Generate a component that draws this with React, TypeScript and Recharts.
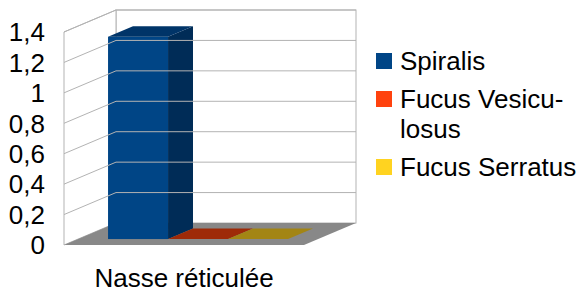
import React from 'react';
import {
  BarChart,
  Bar,
  XAxis,
  YAxis,
  Legend,
  ReferenceArea,
  ReferenceLine,
} from 'recharts';

document.body.style.margin = '0';

const categories = ['Nasse réticulée'];
const spiralis = [1.33];
const vesiculosus = [0];
const serratus = [0];
const seriesNames = ['Spiralis', 'Fucus Vesicu\u00ADlosus', 'Fucus Serratus'];
const yTicks = [0, 0.2, 0.4, 0.6, 0.8, 1, 1.2, 1.4];

// front, side, top shades per series
const frontColors = ['#004586', '#ff420e', '#ffd320'];
const sideColors = ['#002c57', '#a8290a', '#a88a14'];
const topColors = ['#003468', '#9e2a08', '#a38514'];

const data = categories.map((c, i) => ({
  category: c,
  spiralis: spiralis[i],
  vesiculosus: vesiculosus[i],
  serratus: serratus[i],
}));

// oblique 3D projection of the depth axis
const DEPTH_X = 52;
const DEPTH_Y = 22;
const BAR_FRONT = 0.27;
const BAR_DEPTH = 0.48;
const GRID = '#b3b3b3';
const FONT = '"Liberation Sans", Arial, sans-serif';

function make3DBar(idx: number) {
  return (props: any) => {
    const { x, y, width, height } = props;
    const h = Math.max(0, height || 0);
    const ox = DEPTH_X * BAR_FRONT;
    const oy = DEPTH_Y * BAR_FRONT;
    const dx = DEPTH_X * BAR_DEPTH;
    const dy = DEPTH_Y * BAR_DEPTH;
    const l = x + ox;
    const r = l + width;
    const t = y - oy;
    const b = t + h;
    return (
      <g>
        {h > 0 && <rect x={l} y={t} width={width} height={h} fill={frontColors[idx]} />}
        {h > 0 && (
          <polygon
            points={`${r},${t} ${r + dx},${t - dy} ${r + dx},${b - dy} ${r},${b}`}
            fill={sideColors[idx]}
          />
        )}
        <polygon
          points={`${l},${t} ${r},${t} ${r + dx},${t - dy} ${l + dx},${t - dy}`}
          fill={topColors[idx]}
        />
      </g>
    );
  };
}

function Walls(props: any) {
  const { x, y, width, height } = props;
  const bx = x + DEPTH_X;
  const by = y - DEPTH_Y;
  const bottom = y + height;
  return (
    <g>
      <rect x={bx} y={by} width={width} height={height} fill="#fff" stroke={GRID} />
      <polygon
        points={`${x},${y} ${bx},${by} ${bx},${by + height} ${x},${bottom}`}
        fill="#fff"
        stroke={GRID}
      />
      <polygon
        points={`${x},${bottom} ${x + width},${bottom} ${bx + width},${bottom - DEPTH_Y} ${bx},${bottom - DEPTH_Y}`}
        fill="#888888"
      />
    </g>
  );
}

function WallGridLine(props: any) {
  const { x1, y1, x2, y2 } = props;
  return (
    <g stroke={GRID} strokeWidth={1}>
      <line x1={x1} y1={y1} x2={x1 + DEPTH_X} y2={y1 - DEPTH_Y} />
      <line x1={x1 + DEPTH_X} y1={y1 - DEPTH_Y} x2={x2 + DEPTH_X} y2={y2 - DEPTH_Y} />
    </g>
  );
}

function renderLegend(props: any) {
  const items = [...(props.payload || [])].sort(
    (a: any, b: any) => seriesNames.indexOf(a.value) - seriesNames.indexOf(b.value)
  );
  return (
    <div style={{ display: 'flex', flexDirection: 'column', gap: 8, fontFamily: FONT }}>
      {items.map((entry: any) => (
        <div key={entry.value} style={{ display: 'flex', alignItems: 'flex-start' }}>
          <span
            style={{
              width: 16,
              height: 16,
              marginTop: 7,
              marginRight: 8,
              flexShrink: 0,
              background: entry.color,
            }}
          />
          <span style={{ width: 182, fontSize: 26, lineHeight: '30px', color: '#000' }}>
            {entry.value}
          </span>
        </div>
      ))}
    </div>
  );
}

export default function App() {
  return (
    <div style={{ width: 581, height: 292, background: '#fff', fontFamily: FONT }}>
      <BarChart
        width={581}
        height={292}
        data={data}
        margin={{ top: 32, right: 277, left: 4, bottom: 17 }}
        barCategoryGap="12.5%"
        barGap={0}
      >
        <XAxis
          dataKey="category"
          height={30}
          axisLine={false}
          tickLine={false}
          tickSize={0}
          tickMargin={24}
          interval={0}
          tick={{ fontSize: 26, fill: '#000', fontFamily: FONT }}
        />
        <YAxis
          width={60}
          domain={[0, 1.4]}
          ticks={yTicks}
          interval={0}
          axisLine={false}
          tickLine={false}
          tickSize={0}
          tickMargin={19}
          tick={{ fontSize: 26, fill: '#000', fontFamily: FONT }}
          tickFormatter={(v: number) => String(v).replace('.', ',')}
        />
        <ReferenceArea y1={0} y2={1.4} shape={Walls} />
        {yTicks
          .filter((v) => v > 0)
          .map((v) => (
            <ReferenceLine key={v} y={v} shape={WallGridLine} />
          ))}
        <Bar
          dataKey="spiralis"
          name={seriesNames[0]}
          fill={frontColors[0]}
          shape={make3DBar(0)}
          isAnimationActive={false}
        />
        <Bar
          dataKey="vesiculosus"
          name={seriesNames[1]}
          fill={frontColors[1]}
          shape={make3DBar(1)}
          isAnimationActive={false}
        />
        <Bar
          dataKey="serratus"
          name={seriesNames[2]}
          fill={frontColors[2]}
          shape={make3DBar(2)}
          isAnimationActive={false}
        />
        <Legend
          layout="vertical"
          align="center"
          verticalAlign="middle"
          content={renderLegend}
          wrapperStyle={{ left: 376, top: 46, width: 210 }}
        />
      </BarChart>
    </div>
  );
}
